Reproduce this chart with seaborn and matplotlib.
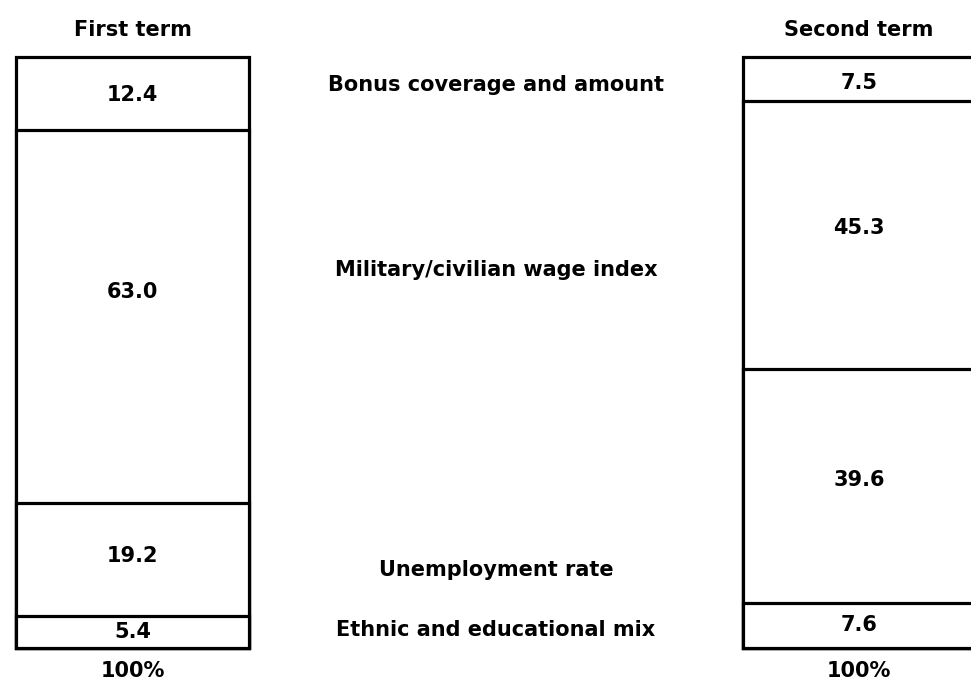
import matplotlib
matplotlib.use("Agg")
import matplotlib.pyplot as plt
import seaborn as sns
import numpy as np
import pandas as pd

# ---- data ----
terms = ["First term", "Second term"]
components = ["Ethnic and educational mix", "Unemployment rate",
              "Military/civilian wage index", "Bonus coverage and amount"]  # bottom -> top
first_term = [5.4, 19.2, 63.0, 12.4]
second_term = [7.6, 39.6, 45.3, 7.5]
total_labels = ["100%", "100%"]

# ---- layout ----
label_y = [3.0, 13.2, 64.0, 95.3]          # middle component labels
value_y = [[2.7, 15.6, 60.2, 93.6],         # value labels in first bar
           [3.9, 28.4, 71.1, 95.6]]         # value labels in second bar
bar_width = 0.32

sns.set_theme(style="white")
plt.rcParams['font.family'] = ['DejaVu Sans']

fig = plt.figure(figsize=(9.71, 6.92), dpi=100)
ax = fig.add_axes([0, 0, 1, 1])

vals = np.array([first_term, second_term])
cum = np.cumsum(vals, axis=1)

# draw cumulative bars from tallest to shortest; white fill, black edges form the dividers
for k in range(cum.shape[1] - 1, -1, -1):
    df = pd.DataFrame({"term": terms, "value": cum[:, k]})
    sns.barplot(data=df, x="term", y="value", order=terms, color="white",
                edgecolor="black", linewidth=2.3, width=bar_width,
                saturation=1, ax=ax, errorbar=None)

fs = 15
fw = "bold"
for i in range(len(terms)):
    for j in range(vals.shape[1]):
        ax.text(i, value_y[i][j], f"{vals[i, j]:.1f}",
                ha="center", va="center", fontsize=fs, fontweight=fw, color="black")
    ax.text(i, 104.6, terms[i], ha="center", va="center", fontsize=fs,
            fontweight=fw, color="black")
    ax.text(i, -3.9, total_labels[i], ha="center", va="center", fontsize=fs,
            fontweight=fw, color="black")

for name, y in zip(components, label_y):
    ax.text(0.5, y, name, ha="center", va="center", fontsize=fs,
            fontweight=fw, color="black")

ax.set_xlim(-0.1824, 1.154)
ax.set_ylim(-7.45, 109.64)
ax.axis("off")

fig.savefig("out.png", dpi=100, facecolor="white")
